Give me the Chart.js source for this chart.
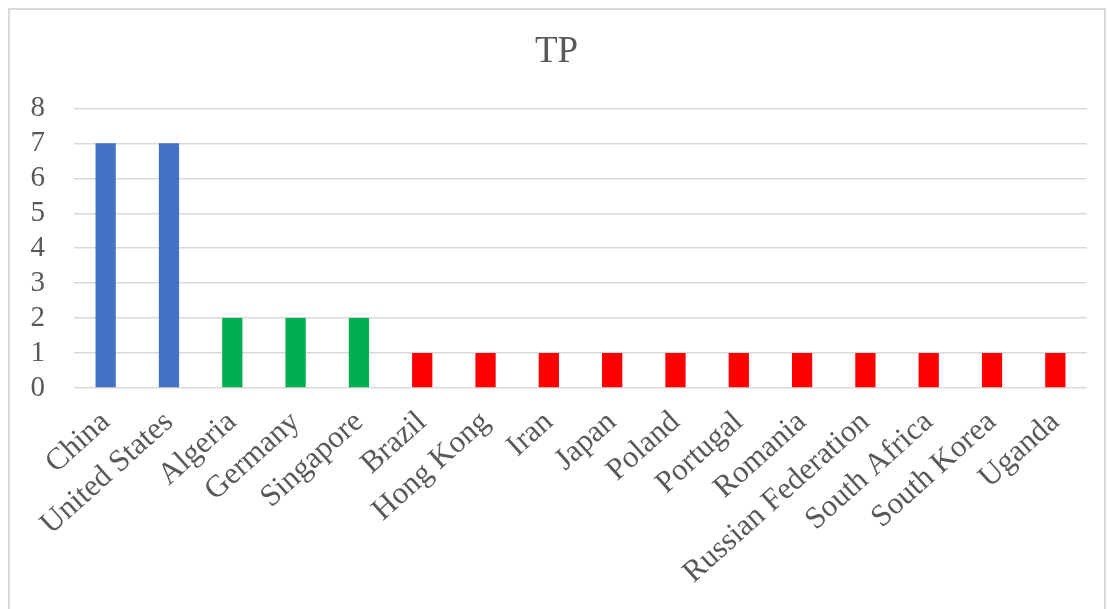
<!DOCTYPE html>
<html>
<head>
<meta charset="utf-8">
<script src="https://cdn.jsdelivr.net/npm/chart.js@4.4.1/dist/chart.umd.min.js"></script>
<style>
  html, body { margin: 0; padding: 0; background: #fff; }
  #wrap { position: relative; width: 1111px; height: 609px; overflow: hidden; }
  #frame { position: absolute; left: 8px; top: 8px; width: 1098px; height: 620px; border: 2px solid #d9d9d9; box-sizing: border-box; }
  #chart { position: absolute; left: 0; top: 0; }
</style>
</head>
<body>
<div id="wrap">
  <div id="frame"></div>
  <canvas id="chart" width="1111" height="609"></canvas>
</div>
<script>
// TP counts by country
const countries = ['China', 'United States', 'Algeria', 'Germany', 'Singapore', 'Brazil', 'Hong Kong', 'Iran',
  'Japan', 'Poland', 'Portugal', 'Romania', 'Russian Federation', 'South Africa', 'South Korea', 'Uganda'];
const tpValues = [7, 7, 2, 2, 2, 1, 1, 1, 1, 1, 1, 1, 1, 1, 1, 1];
const yTicks = [0, 1, 2, 3, 4, 5, 6, 7, 8];

// colour group per bar: blue for 7, green for 2, red for 1
const groupColors = { 7: '#4472C4', 2: '#00B050', 1: '#FF0000' };
const barColors = tpValues.map(v => groupColors[v]);

const serif = "'Liberation Serif', 'Times New Roman', serif";
const textGray = '#595959';

const ctx = document.getElementById('chart').getContext('2d');
new Chart(ctx, {
    type: 'bar',
    data: {
        labels: countries,
        datasets: [{
            label: 'TP',
            data: tpValues,
            backgroundColor: barColors,
            borderWidth: 0,
            barPercentage: 0.32,
            categoryPercentage: 1
        }]
    },
    options: {
        responsive: false,
        animation: false,
        // some left padding nudges the title towards the middle of the frame
        layout: { padding: { left: 26, right: 24, top: 0, bottom: 0 } },
        plugins: {
            legend: { display: false },
            tooltip: { enabled: false },
            title: {
                display: true,
                text: 'TP',
                color: textGray,
                font: { family: serif, size: 37, weight: 'normal', lineHeight: 1.2 },
                padding: { top: 30, bottom: 34 }
            }
        },
        scales: {
            x: {
                grid: { display: false, drawTicks: false },
                border: { display: false },
                ticks: {
                    color: textGray,
                    font: { family: serif, size: 31 },
                    minRotation: 42,
                    maxRotation: 42,
                    padding: 16,
                    autoSkip: false
                },
                afterFit: s => { s.height = 221; }
            },
            y: {
                min: 0,
                max: 8,
                afterBuildTicks: s => { s.ticks = yTicks.map(v => ({ value: v })); },
                grid: { color: '#d9d9d9', lineWidth: 1.5, drawTicks: false },
                border: { display: false },
                ticks: {
                    color: textGray,
                    font: { family: serif, size: 29 },
                    padding: 29,
                    autoSkip: false
                },
                afterFit: s => { s.width = 48; }
            }
        }
    }
});
</script>
</body>
</html>
